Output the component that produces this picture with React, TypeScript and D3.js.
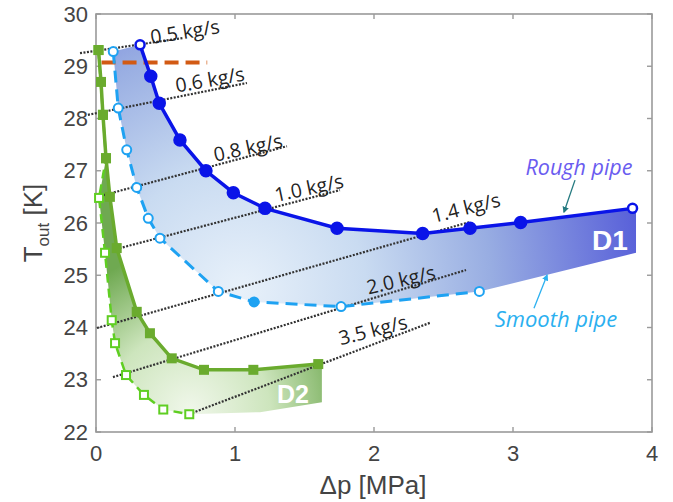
import React from "react";
import * as d3 from "d3";

// Rough pipe (D1 upper boundary)
const roughDp = [0.317, 0.394, 0.455, 0.604, 0.791, 0.988, 1.216, 1.734, 2.35, 2.691, 3.055, 3.86];
const roughT = [29.41, 28.81, 28.29, 27.59, 27.0, 26.58, 26.28, 25.9, 25.8, 25.9, 26.01, 26.28];

// Smooth pipe (D1 lower boundary)
const smoothDp = [0.124, 0.16, 0.221, 0.293, 0.376, 0.46, 0.88, 1.137, 1.763, 2.758];
const smoothT = [29.28, 28.2, 27.4, 26.68, 26.09, 25.71, 24.69, 24.49, 24.4, 24.69];

// D2, rough pipe
const greenRoughDp = [0.018, 0.036, 0.05, 0.072, 0.1, 0.149, 0.293, 0.388, 0.545, 0.777, 1.132, 1.599];
const greenRoughT = [29.31, 28.7, 28.07, 27.24, 26.5, 25.52, 24.3, 23.89, 23.41, 23.19, 23.19, 23.3];

// D2, smooth pipe
const greenSmoothDp = [0.018, 0.05, 0.072, 0.022, 0.065, 0.113, 0.137, 0.216, 0.345, 0.484, 0.671];
const greenSmoothT = [29.31, 28.07, 27.24, 26.48, 25.43, 24.14, 23.7, 23.09, 22.71, 22.43, 22.34];

// Closing edges of the shaded regions
const d1EdgeDp = [3.885, 3.885];
const d1EdgeT = [26.3, 25.43];
const d2EdgeDp = [1.625, 1.625, 1.18];
const d2EdgeT = [23.3, 22.57, 22.38];

// Constant mass-flow lines
const flowLabels = ["0.5 kg/s", "0.6 kg/s", "0.8 kg/s", "1.0 kg/s", "1.4 kg/s", "2.0 kg/s", "3.5 kg/s"];
const flowStartDp = [-0.115, -0.058, 0.007, 0.144, 0.007, 0.122, 0.669];
const flowStartT = [29.25, 28.07, 26.5, 25.5, 23.99, 23.05, 22.34];
const flowEndDp = [0.626, 1.086, 1.374, 1.755, 2.691, 2.662, 2.403];
const flowEndT = [29.54, 28.68, 27.47, 26.63, 26.02, 25.1, 24.09];
const flowLabelDp = [0.64, 0.82, 1.094, 1.532, 2.662, 2.194, 1.993];
const flowLabelT = [29.66, 28.74, 27.44, 26.67, 26.29, 24.91, 23.95];
const flowLabelAngle = [-9, -10, -12, -12, -14, -13, -14];

// Reference temperature
const refT = 29.07;
const refDp = [0.04, 0.8];

const xTicks = [0, 1, 2, 3, 4];
const yTicks = [22, 23, 24, 25, 26, 27, 28, 29, 30];

const W = 673;
const H = 502;
const M = { left: 96, right: 652, top: 14, bottom: 432 };

export default function App() {
  const x = d3.scaleLinear().domain([0, 4]).range([M.left, M.right]);
  const y = d3.scaleLinear().domain([22, 30]).range([M.bottom, M.top]);

  const pts = (a: number[], b: number[]) => a.map((v, i) => [v, b[i]] as [number, number]);
  const line = d3
    .line<[number, number]>()
    .x((d) => x(d[0]))
    .y((d) => y(d[1]));

  const rough = pts(roughDp, roughT);
  const smooth = pts(smoothDp, smoothT);
  const gRough = pts(greenRoughDp, greenRoughT);
  const gSmooth = pts(greenSmoothDp, greenSmoothT);

  const d1Poly = [...rough, ...pts(d1EdgeDp, d1EdgeT), ...smooth.slice().reverse()];
  const d2Poly = [...gRough, ...pts(d2EdgeDp, d2EdgeT), ...gSmooth.slice().reverse()];

  const font = "'Liberation Sans', Arial, sans-serif";
  const labelFont = "'Open Sans', 'Liberation Sans', sans-serif";

  return (
    <svg
      width={W}
      height={H}
      style={{ position: "absolute", left: 0, top: 0, background: "#fff" }}
      fontFamily={font}
    >
      <defs>
        <radialGradient id="gD1" gradientUnits="userSpaceOnUse" cx={240} cy={290} r={420}>
          <stop offset="0" stopColor="#e8f1fa" />
          <stop offset="0.3" stopColor="#c9dbf1" />
          <stop offset="0.6" stopColor="#98ade2" />
          <stop offset="1" stopColor="#5157d8" />
        </radialGradient>
        <radialGradient id="gD2" gradientUnits="userSpaceOnUse" cx={190} cy={410} r={160}>
          <stop offset="0" stopColor="#f0f7ea" />
          <stop offset="0.5" stopColor="#cde5bd" />
          <stop offset="1" stopColor="#6fa951" />
        </radialGradient>
        <marker id="arrRough" viewBox="0 0 10 10" refX="8" refY="5" markerWidth="5" markerHeight="5" orient="auto">
          <path d="M0,0 L10,5 L0,10 z" fill="#257a80" />
        </marker>
        <marker id="arrSmooth" viewBox="0 0 10 10" refX="8" refY="5" markerWidth="5" markerHeight="5" orient="auto">
          <path d="M0,0 L10,5 L0,10 z" fill="#2bb0f0" />
        </marker>
      </defs>

      {/* shaded regions */}
      <path d={line(d1Poly) + "Z"} fill="url(#gD1)" />
      <path d={line(d2Poly) + "Z"} fill="url(#gD2)" />

      {/* frame */}
      <rect
        x={M.left}
        y={M.top}
        width={M.right - M.left}
        height={M.bottom - M.top}
        fill="none"
        stroke="#9a9a9a"
        strokeWidth={1.6}
      />
      {xTicks.map((t) => (
        <g key={"xt" + t} stroke="#9a9a9a" strokeWidth={1.4}>
          <line x1={x(t)} x2={x(t)} y1={M.bottom} y2={M.bottom - 5} />
          <line x1={x(t)} x2={x(t)} y1={M.top} y2={M.top + 5} />
        </g>
      ))}
      {yTicks.map((t) => (
        <g key={"yt" + t} stroke="#9a9a9a" strokeWidth={1.4}>
          <line x1={M.left} x2={M.left + 5} y1={y(t)} y2={y(t)} />
          <line x1={M.right} x2={M.right - 5} y1={y(t)} y2={y(t)} />
        </g>
      ))}
      {xTicks.map((t) => (
        <text key={"xl" + t} x={x(t)} y={461} textAnchor="middle" fontSize={22} fill="#444">
          {t}
        </text>
      ))}
      {yTicks.map((t) => (
        <text key={"yl" + t} x={88} y={y(t)} dy="0.35em" textAnchor="end" fontSize={22} fill="#444">
          {t}
        </text>
      ))}

      {/* axis titles */}
      <text x={373} y={494} textAnchor="middle" fontSize={26} fill="#444">
        Δp [MPa]
      </text>
      <text transform="translate(42,223) rotate(-90)" textAnchor="middle" fontSize={26} fill="#444">
        T
        <tspan fontSize={17} dy={7}>
          out
        </tspan>
        <tspan dy={-7}> [K]</tspan>
      </text>

      {/* constant mass-flow lines */}
      {flowLabels.map((lab, i) => (
        <g key={"fl" + i}>
          <line
            x1={x(flowStartDp[i])}
            y1={y(flowStartT[i])}
            x2={x(flowEndDp[i])}
            y2={y(flowEndT[i])}
            stroke="#333"
            strokeWidth={2.2}
            strokeDasharray="2 1.5"
          />
          <text
            transform={`translate(${x(flowLabelDp[i])},${y(flowLabelT[i])}) rotate(${flowLabelAngle[i]})`}
            textAnchor="middle"
            dy="0.35em"
            fontSize={19.5}
            fontFamily={labelFont}
            fill="#222"
          >
            {lab}
          </text>
        </g>
      ))}

      {/* reference temperature */}
      <line
        x1={x(refDp[0])}
        x2={x(refDp[1])}
        y1={y(refT)}
        y2={y(refT)}
        stroke="#d25a14"
        strokeWidth={4}
        strokeDasharray="14 7"
      />

      {/* D2 curves */}
      <path d={line(gSmooth) ?? ""} fill="none" stroke="#5fce22" strokeWidth={2.5} strokeDasharray="9 6" />
      {gSmooth.map((p, i) => (
        <rect
          key={"gs" + i}
          x={x(p[0]) - 4}
          y={y(p[1]) - 4}
          width={8}
          height={8}
          fill="#fff"
          stroke="#5fce22"
          strokeWidth={2}
        />
      ))}
      <path d={line(gRough) ?? ""} fill="none" stroke="#6aab2e" strokeWidth={3.5} />
      {gRough.map((p, i) => (
        <rect key={"gr" + i} x={x(p[0]) - 5} y={y(p[1]) - 5} width={10} height={10} fill="#6aab2e" />
      ))}

      {/* D1 curves */}
      <path d={line(smooth) ?? ""} fill="none" stroke="#1ea2f2" strokeWidth={3} strokeDasharray="12 7" />
      {smooth.map((p, i) => (
        <circle
          key={"sm" + i}
          cx={x(p[0])}
          cy={y(p[1])}
          r={4.5}
          fill={i === 7 ? "#1ea2f2" : "#fff"}
          stroke="#1ea2f2"
          strokeWidth={2}
        />
      ))}
      <path d={line(rough) ?? ""} fill="none" stroke="#0a14e8" strokeWidth={3.5} />
      {rough.map((p, i) => (
        <circle
          key={"rg" + i}
          cx={x(p[0])}
          cy={y(p[1])}
          r={i === 0 || i === rough.length - 1 ? 4.5 : 5.5}
          fill={i === 0 || i === rough.length - 1 ? "#fff" : "#0a14e8"}
          stroke="#0a14e8"
          strokeWidth={2.5}
        />
      ))}

      {/* region labels */}
      <text x={610} y={250} textAnchor="middle" fontSize={28} fontWeight="bold" fill="#fff">
        D1
      </text>
      <text x={293} y={403} textAnchor="middle" fontSize={25} fontWeight="bold" fill="#fff">
        D2
      </text>

      {/* pipe annotations */}
      <text x={579} y={175} textAnchor="middle" fontSize={21.5} fontStyle="italic" fontFamily={labelFont} fill="#6a5cf0">
        Rough pipe
      </text>
      <line x1={x(3.446)} y1={y(26.82)} x2={x(3.367)} y2={y(26.21)} stroke="#257a80" strokeWidth={1.3} markerEnd="url(#arrRough)" />
      <text x={556} y={327} textAnchor="middle" fontSize={22} fontStyle="italic" fontFamily={labelFont} fill="#2bb0f0">
        Smooth pipe
      </text>
      <line x1={x(3.151)} y1={y(24.37)} x2={x(3.245)} y2={y(25.0)} stroke="#2bb0f0" strokeWidth={1.3} markerEnd="url(#arrSmooth)" />
    </svg>
  );
}
